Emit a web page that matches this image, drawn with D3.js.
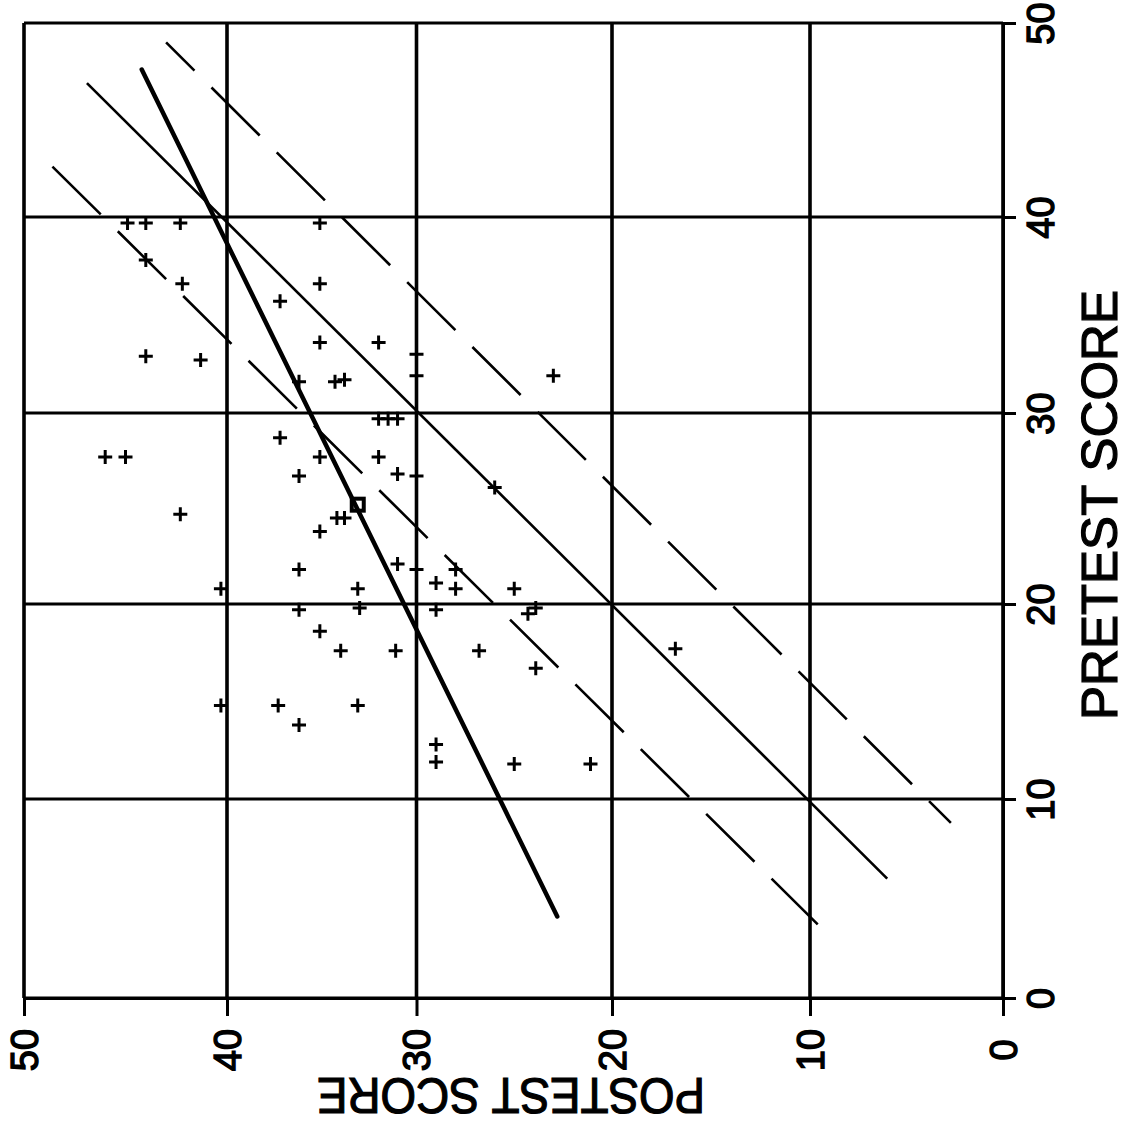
<!DOCTYPE html>
<html>
<head>
<meta charset="utf-8">
<script src="https://cdn.jsdelivr.net/npm/d3@7"></script>
<style>
  body { margin: 0; background: #fff; }
  text { font-family: "Liberation Sans", Arial, sans-serif; fill: #000; }
</style>
</head>
<body>
<div id="chart"></div>
<script>

// Pretest vs posttest scatter (plot page is turned on its side:
// pretest runs up the right edge, posttest runs right-to-left along the bottom)

const width = 1129, height = 1139;

// tick values
const preTicks = [0, 10, 20, 30, 40, 50];
const postTicks = [0, 10, 20, 30, 40, 50];

// students
const pretest = [39.7, 39.7, 39.7, 39.7, 37.8, 36.6, 36.6, 35.7, 33.6, 33.6,
                 32.9, 32.7, 33.0, 31.6, 31.6, 31.7, 31.9, 31.9, 29.7, 29.7,
                 29.7, 28.7, 27.7, 27.7, 27.7, 27.7, 26.7, 26.8, 26.7, 26.1,
                 24.7, 24.5, 24.5, 23.8, 21.8, 22.1, 21.8, 21.8, 20.8, 20.8,
                 21.1, 20.8, 20.8, 19.7, 19.8, 19.7, 19.5, 19.8, 18.6, 17.6,
                 17.6, 17.6, 16.7, 17.7, 14.8, 14.8, 14.8, 13.8, 12.8, 11.9,
                 11.8, 11.8];
const posttest = [44.9, 44.0, 42.3, 35.1, 44.0, 42.2, 35.1, 37.2, 35.1, 32.0,
                  44.0, 41.3, 30.0, 36.2, 34.3, 33.8, 30.0, 23.0, 32.0, 31.5,
                  31.0, 37.2, 46.0, 45.0, 35.1, 32.0, 36.2, 31.0, 30.0, 26.0,
                  42.3, 34.2, 33.8, 35.1, 36.2, 31.0, 30.0, 28.0, 40.3, 33.1,
                  29.0, 28.0, 25.0, 36.2, 33.0, 29.0, 24.3, 23.9, 35.1, 34.0,
                  31.1, 26.8, 23.9, 16.8, 40.3, 37.3, 33.1, 36.2, 29.0, 29.0,
                  25.0, 21.1];

// group mean
const meanPre = [25.2];
const meanPost = [33.1];

// fitted line, identity line and the two dashed bands (pre, post end points)
const regPre = [47.6, 4.1],      regPost = [44.2, 22.8];
const idPre = [46.9, 6.0],       idPost = [46.9, 6.0];
const upperPre = [49.0, 8.8],    upperPost = [43.0, 2.7];
const lowerPre = [42.6, 3.7],    lowerPost = [48.6, 9.6];

const svg = d3.select("#chart")
  .append("svg")
  .attr("width", width)
  .attr("height", height);

// scales (gridlines on the scan are slightly uneven, so map each ten)
const yPre = d3.scaleLinear()
  .domain(preTicks)
  .range([998, 799, 604, 413, 217, 23]);

const xPost = d3.scaleLinear()
  .domain(postTicks)
  .range([1003, 810, 612, 416.5, 227, 24]);

// grid
svg.append("g")
  .selectAll("line")
  .data(preTicks)
  .enter()
  .append("line")
    .attr("x1", xPost(50))
    .attr("x2", xPost(0))
    .attr("y1", d => yPre(d))
    .attr("y2", d => yPre(d))
    .attr("stroke", "#000")
    .attr("stroke-width", 3);

svg.append("g")
  .selectAll("line")
  .data(postTicks)
  .enter()
  .append("line")
    .attr("x1", d => xPost(d))
    .attr("x2", d => xPost(d))
    .attr("y1", yPre(50))
    .attr("y2", yPre(0))
    .attr("stroke", "#000")
    .attr("stroke-width", 3.6);

// pretest axis (right side)
const preAxis = svg.append("g")
  .attr("transform", `translate(${xPost(0)},0)`)
  .call(d3.axisRight(yPre).tickValues(preTicks).tickSize(13).tickSizeOuter(0).tickFormat(d3.format("d")));

// posttest axis (bottom)
const postAxis = svg.append("g")
  .attr("transform", `translate(0,${yPre(0)})`)
  .call(d3.axisBottom(xPost).tickValues(postTicks).tickSize(18).tickSizeOuter(0).tickFormat(d3.format("d")));

[preAxis, postAxis].forEach(function(ax) {
  ax.select(".domain").attr("stroke", "#000").attr("stroke-width", 3);
  ax.selectAll(".tick line").attr("stroke", "#000").attr("stroke-width", 3);
  ax.selectAll(".tick text")
    .attr("x", null).attr("y", null).attr("dy", null)
    .attr("text-anchor", "middle")
    .attr("dominant-baseline", "central")
    .attr("font-size", 38)
    .attr("stroke", "#000")
    .attr("stroke-width", 1.4);
});

preAxis.selectAll(".tick text").attr("transform", "translate(38,0) rotate(-90)");
postAxis.selectAll(".tick text").attr("transform", "translate(0,52) rotate(-90)");

// axis titles
svg.append("text")
  .attr("transform", "translate(1100,505) rotate(-90)")
  .attr("text-anchor", "middle")
  .attr("dominant-baseline", "central")
  .attr("font-size", 50)
  .attr("textLength", 430)
  .attr("lengthAdjust", "spacingAndGlyphs")
  .attr("stroke", "#000")
  .attr("stroke-width", 1.2)
  .text("PRETEST SCORE");

svg.append("text")
  .attr("transform", "translate(511,1095) rotate(180)")
  .attr("text-anchor", "middle")
  .attr("dominant-baseline", "central")
  .attr("font-size", 50)
  .attr("textLength", 388)
  .attr("lengthAdjust", "spacingAndGlyphs")
  .attr("stroke", "#000")
  .attr("stroke-width", 1.2)
  .text("POSTEST SCORE");

// lines
const seg = function(pre, post) {
  return d3.line()(pre.map((p, i) => [xPost(post[i]), yPre(p)]));
};

svg.append("path")
  .attr("d", seg(idPre, idPost))
  .attr("fill", "none").attr("stroke", "#000").attr("stroke-width", 2.6);

[[upperPre, upperPost, 28], [lowerPre, lowerPost, 0]].forEach(function(l) {
  svg.append("path")
    .attr("d", seg(l[0], l[1]))
    .attr("fill", "none").attr("stroke", "#000").attr("stroke-width", 2.6)
    .attr("stroke-dasharray", "68,24")
    .attr("stroke-dashoffset", l[2]);
});

svg.append("path")
  .attr("d", seg(regPre, regPost))
  .attr("fill", "none").attr("stroke", "#000").attr("stroke-width", 4.5)
  .attr("stroke-linecap", "round");

// points
svg.selectAll(".point")
  .data(pretest)
  .enter()
  .append("path")
    .attr("class", "point")
    .attr("transform", (d, i) => `translate(${xPost(posttest[i])},${yPre(d)})`)
    .attr("d", "M-7,0H7M0,-7V7")
    .attr("stroke", "#000")
    .attr("stroke-width", 3);

// mean marker
svg.selectAll(".mean")
  .data(meanPre)
  .enter()
  .append("rect")
    .attr("class", "mean")
    .attr("x", (d, i) => xPost(meanPost[i]) - 6)
    .attr("y", d => yPre(d) - 6)
    .attr("width", 12)
    .attr("height", 12)
    .attr("fill", "none")
    .attr("stroke", "#000")
    .attr("stroke-width", 4);

</script>
</body>
</html>
